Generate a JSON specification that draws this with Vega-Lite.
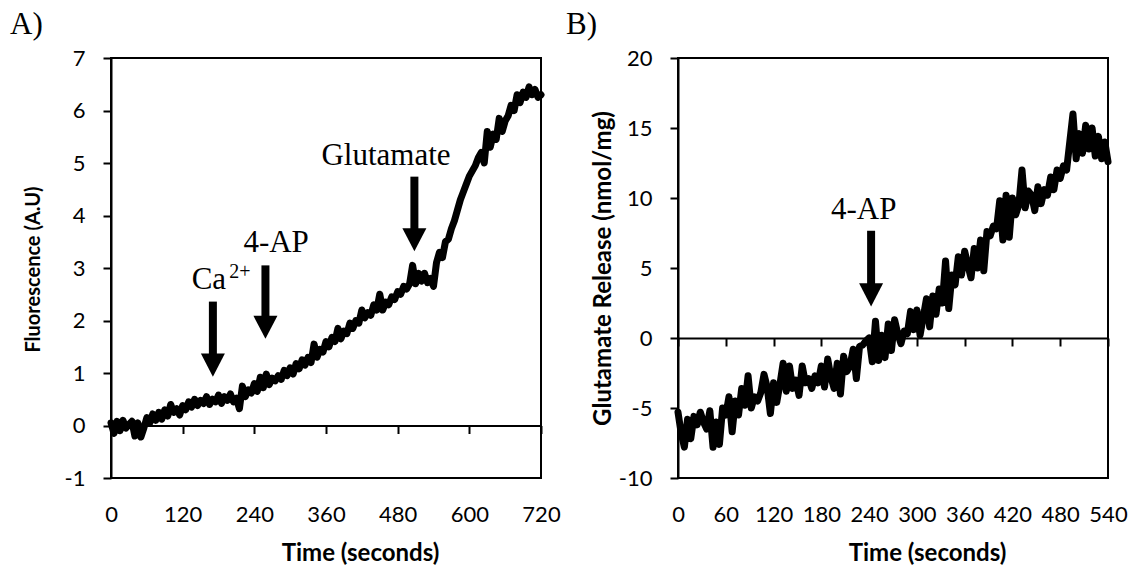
{
  "$schema": "https://vega.github.io/schema/vega-lite/v6.json",
  "background": "white",
  "padding": {"left": 9, "top": 8, "right": 5, "bottom": 0},
  "config": {
    "view": {"stroke": "black", "strokeWidth": 2},
    "axis": {"labelFont": "Lato", "labelFontSize": 22, "labelColor": "black", "titleFont": "Lato", "titleFontSize": 24, "titleFontWeight": "bold", "titleColor": "black", "grid": false, "domainColor": "black", "tickColor": "black", "domainWidth": 2, "tickWidth": 2, "labelFlush": false, "labelOverlap": false, "labelBound": false, "labelExpr": "replace(datum.label, '\u2212', '-')"},
    "title": {"font": "Liberation Serif", "fontSize": 31, "fontWeight": "normal", "anchor": "start", "frame": "bounds", "color": "black", "offset": 6}
  },
  "datasets": {
    "fluor": [
      {"t":0,"f":0.05},{"t":5,"f":-0.15},{"t":10,"f":0.08},{"t":15,"f":-0.1},{"t":20,"f":0.1},{"t":25,"f":-0.05},{"t":30,"f":0.02},{"t":35,"f":0.08},{"t":40,"f":-0.2},{"t":45,"f":0.05},
      {"t":50,"f":-0.22},{"t":55,"f":-0.05},{"t":60,"f":0.15},{"t":65,"f":0.05},{"t":70,"f":0.22},{"t":75,"f":0.1},{"t":80,"f":0.25},{"t":85,"f":0.12},{"t":90,"f":0.3},{"t":95,"f":0.18},
      {"t":100,"f":0.4},{"t":105,"f":0.25},{"t":110,"f":0.32},{"t":115,"f":0.2},{"t":120,"f":0.38},{"t":125,"f":0.3},{"t":130,"f":0.45},{"t":135,"f":0.35},{"t":140,"f":0.5},{"t":145,"f":0.38},
      {"t":150,"f":0.48},{"t":155,"f":0.42},{"t":160,"f":0.55},{"t":165,"f":0.4},{"t":170,"f":0.5},{"t":175,"f":0.45},{"t":180,"f":0.58},{"t":185,"f":0.42},{"t":190,"f":0.55},{"t":195,"f":0.48},
      {"t":200,"f":0.6},{"t":205,"f":0.45},{"t":210,"f":0.52},{"t":215,"f":0.32},{"t":220,"f":0.75},{"t":225,"f":0.55},{"t":230,"f":0.68},{"t":235,"f":0.62},{"t":240,"f":0.8},{"t":245,"f":0.65},
      {"t":250,"f":0.92},{"t":255,"f":0.72},{"t":260,"f":0.98},{"t":265,"f":0.78},{"t":270,"f":0.9},{"t":275,"f":0.85},{"t":280,"f":0.95},{"t":285,"f":0.88},{"t":290,"f":1.05},{"t":295,"f":0.95},
      {"t":300,"f":1.1},{"t":305,"f":0.98},{"t":310,"f":1.18},{"t":315,"f":1.08},{"t":320,"f":1.25},{"t":325,"f":1.15},{"t":330,"f":1.3},{"t":335,"f":1.2},{"t":340,"f":1.55},{"t":345,"f":1.3},
      {"t":350,"f":1.45},{"t":355,"f":1.4},{"t":360,"f":1.6},{"t":365,"f":1.5},{"t":370,"f":1.68},{"t":375,"f":1.6},{"t":380,"f":1.85},{"t":385,"f":1.65},{"t":390,"f":1.8},{"t":395,"f":1.75},
      {"t":400,"f":1.95},{"t":405,"f":1.85},{"t":410,"f":2.0},{"t":415,"f":1.95},{"t":420,"f":2.2},{"t":425,"f":2.05},{"t":430,"f":2.15},{"t":435,"f":2.1},{"t":440,"f":2.3},{"t":445,"f":2.2},
      {"t":450,"f":2.5},{"t":455,"f":2.2},{"t":460,"f":2.35},{"t":465,"f":2.3},{"t":470,"f":2.45},{"t":475,"f":2.4},{"t":480,"f":2.55},{"t":485,"f":2.5},{"t":490,"f":2.65},{"t":495,"f":2.6},
      {"t":500,"f":2.7},{"t":505,"f":3.05},{"t":510,"f":2.7},{"t":515,"f":2.9},{"t":520,"f":2.75},{"t":525,"f":2.9},{"t":530,"f":2.72},{"t":535,"f":2.8},{"t":540,"f":2.65},{"t":545,"f":3.1},
      {"t":550,"f":3.3},{"t":555,"f":3.2},{"t":560,"f":3.5},{"t":565,"f":3.55},{"t":570,"f":3.75},{"t":575,"f":3.9},{"t":580,"f":4.1},{"t":585,"f":4.3},{"t":590,"f":4.45},{"t":595,"f":4.6},
      {"t":600,"f":4.75},{"t":605,"f":4.85},{"t":610,"f":4.95},{"t":615,"f":5.1},{"t":620,"f":5.2},{"t":625,"f":5.0},{"t":630,"f":5.6},{"t":635,"f":5.3},{"t":640,"f":5.55},{"t":645,"f":5.45},
      {"t":650,"f":5.85},{"t":655,"f":5.6},{"t":660,"f":5.8},{"t":665,"f":5.9},{"t":670,"f":6.1},{"t":675,"f":6.0},{"t":680,"f":6.3},{"t":685,"f":6.15},{"t":690,"f":6.35},{"t":695,"f":6.25},
      {"t":700,"f":6.45},{"t":705,"f":6.3},{"t":710,"f":6.4},{"t":715,"f":6.25},{"t":720,"f":6.3}
    ],
    "glut": [
      {"t":0,"g":-5.3},{"t":4,"g":-6.8},{"t":8,"g":-7.8},{"t":12,"g":-5.8},{"t":16,"g":-7.2},{"t":20,"g":-5.6},{"t":24,"g":-6.2},{"t":28,"g":-5.3},{"t":32,"g":-6.0},{"t":36,"g":-6.5},
      {"t":40,"g":-5.2},{"t":44,"g":-7.8},{"t":48,"g":-6.0},{"t":52,"g":-7.6},{"t":56,"g":-5.0},{"t":60,"g":-5.5},{"t":64,"g":-4.2},{"t":68,"g":-6.7},{"t":72,"g":-4.5},{"t":76,"g":-5.5},
      {"t":80,"g":-3.6},{"t":84,"g":-4.8},{"t":88,"g":-2.7},{"t":92,"g":-5.0},{"t":96,"g":-4.2},{"t":100,"g":-4.5},{"t":104,"g":-3.9},{"t":108,"g":-2.6},{"t":112,"g":-3.5},{"t":116,"g":-5.4},
      {"t":120,"g":-3.2},{"t":124,"g":-4.6},{"t":128,"g":-3.3},{"t":132,"g":-1.8},{"t":136,"g":-3.8},{"t":140,"g":-2.0},{"t":144,"g":-3.6},{"t":148,"g":-3.0},{"t":152,"g":-4.1},{"t":156,"g":-2.0},
      {"t":160,"g":-3.2},{"t":164,"g":-2.9},{"t":168,"g":-3.6},{"t":172,"g":-2.7},{"t":176,"g":-3.2},{"t":180,"g":-2.0},{"t":184,"g":-3.5},{"t":188,"g":-1.5},{"t":192,"g":-2.8},{"t":196,"g":-3.6},
      {"t":200,"g":-1.8},{"t":204,"g":-4.0},{"t":208,"g":-1.3},{"t":212,"g":-2.4},{"t":216,"g":-2.0},{"t":220,"g":-0.8},{"t":224,"g":-2.9},{"t":228,"g":-0.6},{"t":232,"g":-0.5},{"t":236,"g":-0.2},
      {"t":240,"g":0.0},{"t":244,"g":-1.7},{"t":248,"g":1.2},{"t":252,"g":-1.6},{"t":256,"g":0.2},{"t":260,"g":-1.4},{"t":264,"g":1.0},{"t":268,"g":-0.9},{"t":272,"g":1.3},{"t":276,"g":0.3},
      {"t":280,"g":-0.4},{"t":284,"g":0.5},{"t":288,"g":0.3},{"t":292,"g":1.9},{"t":296,"g":0.6},{"t":300,"g":2.0},{"t":304,"g":0.2},{"t":308,"g":1.5},{"t":312,"g":2.8},{"t":316,"g":0.8},
      {"t":320,"g":3.0},{"t":324,"g":1.7},{"t":328,"g":3.5},{"t":332,"g":2.5},{"t":336,"g":5.5},{"t":340,"g":2.1},{"t":344,"g":4.5},{"t":348,"g":3.8},{"t":352,"g":5.8},{"t":356,"g":4.5},
      {"t":360,"g":6.2},{"t":364,"g":5.2},{"t":368,"g":4.3},{"t":372,"g":6.4},{"t":376,"g":5.0},{"t":380,"g":7.0},{"t":384,"g":4.8},{"t":388,"g":7.6},{"t":392,"g":7.3},{"t":396,"g":8.0},
      {"t":400,"g":7.8},{"t":404,"g":9.8},{"t":408,"g":7.0},{"t":412,"g":10.2},{"t":416,"g":7.2},{"t":420,"g":10.0},{"t":424,"g":8.8},{"t":428,"g":9.5},{"t":432,"g":12.0},{"t":436,"g":9.3},
      {"t":440,"g":10.5},{"t":444,"g":10.2},{"t":448,"g":9.1},{"t":452,"g":10.8},{"t":456,"g":9.6},{"t":460,"g":10.6},{"t":464,"g":10.2},{"t":468,"g":11.5},{"t":472,"g":10.6},{"t":476,"g":12.0},
      {"t":480,"g":11.4},{"t":484,"g":12.3},{"t":488,"g":12.0},{"t":492,"g":14.0},{"t":496,"g":16.0},{"t":500,"g":12.8},{"t":504,"g":14.6},{"t":508,"g":13.2},{"t":512,"g":15.2},{"t":516,"g":13.5},
      {"t":520,"g":15.0},{"t":524,"g":13.0},{"t":528,"g":14.4},{"t":532,"g":12.8},{"t":536,"g":14.0},{"t":540,"g":12.6}
    ],
    "arrowsA": [
      {"x":170.6,"top":2.36,"mid":1.15},
      {"x":258.6,"top":3.05,"mid":1.87},
      {"x":508,"top":4.74,"mid":3.54}
    ],
    "arrowsB": [
      {"x":242.5,"top":7.66,"mid":3.08}
    ],
    "labelsA": [
      {"x":276.5,"y":3.3,"label":"4-AP"},
      {"x":460.5,"y":4.97,"label":"Glutamate"}
    ],
    "caA": [
      {"x":135,"y":2.6,"label":"Ca"}
    ],
    "supA": [
      {"x":198,"y":2.81,"label":"2+"}
    ],
    "labelsB": [
      {"x":233.2,"y":8.53,"label":"4-AP"}
    ]
  },
  "spacing": 2,
  "hconcat": [
    {
      "width": 430,
      "height": 420,
      "title": {"text": "A)", "dx": -13},
      "resolve": {"axis": {"x": "independent"}},
      "layer": [
        {
          "data": {"name": "fluor"},
          "mark": {"type": "line", "stroke": "black", "strokeWidth": 7, "strokeJoin": "round", "strokeCap": "round"},
          "encoding": {
            "x": {"field": "t", "type": "quantitative", "scale": {"domain": [0, 720], "nice": false, "zero": false},
                  "axis": {"values": [0,120,240,360,480,600,720], "ticks": false, "domain": false, "labelPadding": 26, "title": "Time (seconds)", "titleX": 249, "titleY": 75, "titleBaseline": "middle", "titleAlign": "center"}},
            "y": {"field": "f", "type": "quantitative", "scale": {"domain": [-1, 7], "nice": false, "zero": false},
                  "axis": {"values": [-1,0,1,2,3,4,5,6,7], "tickSize": 8, "labelPadding": 18, "title": "Fluorescence (A.U)", "titleFontSize": 20, "titleX": -78, "titleY": 211, "titleBaseline": "middle", "titleAlign": "center", "titleAngle": -90}}
          }
        },
        {
          "data": {"name": "arrowsA"},
          "mark": {"type": "rule", "stroke": "black", "strokeWidth": 8, "strokeCap": "butt"},
          "encoding": {
            "x": {"field": "x", "type": "quantitative", "axis": {"orient": "bottom", "offset": -52.5, "values": [0,120,240,360,480,600,720], "labels": false, "title": null, "ticks": true, "tickSize": 8, "domain": true}},
            "y": {"field": "top", "type": "quantitative"},
            "y2": {"field": "mid"}
          }
        },
        {
          "data": {"name": "arrowsA"},
          "mark": {"type": "point", "shape": "M-1,-0.96L1,-0.96L0,0.96Z", "filled": true, "fill": "black", "opacity": 1, "size": 576, "strokeWidth": 0},
          "encoding": {
            "x": {"field": "x", "type": "quantitative", "axis": null},
            "y": {"field": "mid", "type": "quantitative"}
          }
        },
        {
          "data": {"name": "labelsA"},
          "mark": {"type": "text", "font": "Liberation Serif", "fontSize": 31, "align": "center", "baseline": "alphabetic", "color": "black"},
          "encoding": {
            "x": {"field": "x", "type": "quantitative", "axis": null},
            "y": {"field": "y", "type": "quantitative"},
            "text": {"field": "label"}
          }
        },
        {
          "data": {"name": "caA"},
          "mark": {"type": "text", "font": "Liberation Serif", "fontSize": 31, "align": "left", "baseline": "alphabetic", "color": "black"},
          "encoding": {
            "x": {"field": "x", "type": "quantitative", "axis": null},
            "y": {"field": "y", "type": "quantitative"},
            "text": {"field": "label"}
          }
        },
        {
          "data": {"name": "supA"},
          "mark": {"type": "text", "font": "Liberation Serif", "fontSize": 20, "align": "left", "baseline": "alphabetic", "color": "black"},
          "encoding": {
            "x": {"field": "x", "type": "quantitative", "axis": null},
            "y": {"field": "y", "type": "quantitative"},
            "text": {"field": "label"}
          }
        }
      ]
    },
    {
      "width": 430,
      "height": 420,
      "title": {"text": "B)", "dx": -25},
      "resolve": {"axis": {"x": "independent"}},
      "layer": [
        {
          "data": {"name": "glut"},
          "mark": {"type": "line", "stroke": "black", "strokeWidth": 7, "strokeJoin": "round", "strokeCap": "round"},
          "encoding": {
            "x": {"field": "t", "type": "quantitative", "scale": {"domain": [0, 540], "nice": false, "zero": false},
                  "axis": {"values": [0,60,120,180,240,300,360,420,480,540], "ticks": false, "domain": false, "labelPadding": 26, "title": "Time (seconds)", "titleX": 249, "titleY": 75, "titleBaseline": "middle", "titleAlign": "center"}},
            "y": {"field": "g", "type": "quantitative", "scale": {"domain": [-10, 20], "nice": false, "zero": false},
                  "axis": {"values": [-10,-5,0,5,10,15,20], "tickSize": 8, "labelPadding": 18, "title": "Glutamate Release (nmol/mg)", "titleX": -75, "titleY": 210, "titleBaseline": "middle", "titleAlign": "center", "titleAngle": -90}}
          }
        },
        {
          "data": {"name": "arrowsB"},
          "mark": {"type": "rule", "stroke": "black", "strokeWidth": 8, "strokeCap": "butt"},
          "encoding": {
            "x": {"field": "x", "type": "quantitative", "axis": {"orient": "bottom", "offset": -140, "values": [0,60,120,180,240,300,360,420,480,540], "labels": false, "title": null, "ticks": true, "tickSize": 8, "domain": true}},
            "y": {"field": "top", "type": "quantitative"},
            "y2": {"field": "mid"}
          }
        },
        {
          "data": {"name": "arrowsB"},
          "mark": {"type": "point", "shape": "M-1,-0.96L1,-0.96L0,0.96Z", "filled": true, "fill": "black", "opacity": 1, "size": 576, "strokeWidth": 0},
          "encoding": {
            "x": {"field": "x", "type": "quantitative", "axis": null},
            "y": {"field": "mid", "type": "quantitative"}
          }
        },
        {
          "data": {"name": "labelsB"},
          "mark": {"type": "text", "font": "Liberation Serif", "fontSize": 31, "align": "center", "baseline": "alphabetic", "color": "black"},
          "encoding": {
            "x": {"field": "x", "type": "quantitative", "axis": null},
            "y": {"field": "y", "type": "quantitative"},
            "text": {"field": "label"}
          }
        }
      ]
    }
  ]
}
